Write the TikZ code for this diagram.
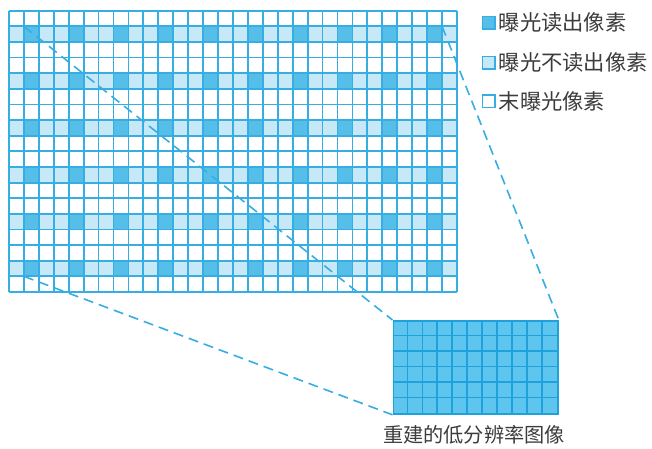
\documentclass[tikz,border=0pt]{standalone}
\usepackage{fontspec}
\newfontfamily\cjk{Noto Sans CJK SC}
\definecolor{gridline}{HTML}{36AEE3}
\definecolor{darkcell}{HTML}{55BFEA}
\definecolor{lightcell}{HTML}{C6E8F7}
\definecolor{smallfill}{HTML}{5EC6EE}
\definecolor{smallline}{HTML}{1EA2DC}
\definecolor{txt}{HTML}{3C3C3C}
\tikzset{
  gridl/.style={draw=gridline, line width=1.8pt},
  sline/.style={draw=smallline, line width=1.8pt},
  conn/.style={draw=gridline, line width=1.6pt, dash pattern=on 10pt off 6pt},
  legbox/.style={draw=gridline, line width=1.5pt, minimum size=12.5pt, inner sep=0pt},
  legtext/.style={anchor=west, inner sep=0pt, text=txt, font=\cjk\fontsize{21.3}{24}\selectfont},
  captext/.style={inner sep=0pt, text=txt, font=\cjk\fontsize{20.2}{24}\selectfont}
}
\begin{document}
\begin{tikzpicture}[x=1pt,y=-1pt]
\useasboundingbox (0,0) rectangle (652,448);
\fill[white] (0,0) rectangle (652,448);
\def\bx{9}
\def\by{10.7}
\def\bw{14.933}
\def\bh{15.628}
% coloured rows
\foreach \r in {1,4,...,16} {
  \fill[lightcell] (\bx, \by+\r*\bh) rectangle (\bx+30*\bw, \by+\r*\bh+\bh);
  \foreach \c in {1,4,...,28}
    \fill[darkcell] (\bx+\c*\bw, \by+\r*\bh) rectangle (\bx+\c*\bw+\bw, \by+\r*\bh+\bh);
}
% grid lines
\foreach \c in {0,...,30}
  \draw[gridl] (\bx+\c*\bw, \by) -- (\bx+\c*\bw, \by+18*\bh);
\foreach \r in {0,...,18}
  \draw[gridl] (\bx, \by+\r*\bh) -- (\bx+30*\bw, \by+\r*\bh);
% corner coordinates of the sampled region
\coordinate (tl) at (\bx+\bw, \by+\bh);
\coordinate (bl) at (\bx+\bw, \by+17*\bh);
\coordinate (tr) at (\bx+29*\bw, \by+\bh);
% small reconstructed grid
\node[fill=smallfill, draw=smallline, line width=1.8pt, minimum width=164.5pt, minimum height=93pt, inner sep=0pt, anchor=north west] (small) at (392.5,320) {};
\foreach \c in {1,...,10}
  \draw[sline] (392.5+\c*14.955, 320) -- (392.5+\c*14.955, 413);
\foreach \r in {1,...,5}
  \draw[sline] (392.5, 320+\r*15.5) -- (557, 320+\r*15.5);
% dashed connectors
\draw[conn] (tl) -- (small.north west);
\draw[conn] (bl) -- (small.south west);
\draw[conn] (tr) -- (small.north east);
% legend
\node[legbox, fill=darkcell] (k1) at (488.5, 22.5) {};
\node[legbox, fill=lightcell] (k2) at (488.5, 62.5) {};
\node[legbox, fill=white] (k3) at (488.5, 101) {};
\node[legtext] (t1) at (498.5, 22.5) {曝光读出像素};
\node[legtext] (t2) at (498.5, 62.5) {曝光不读出像素};
\node[legtext] (t3) at (498.5, 101) {末曝光像素};
% caption
\node[captext] (cap) at (474, 435) {重建的低分辨率图像};
\end{tikzpicture}
\end{document}
